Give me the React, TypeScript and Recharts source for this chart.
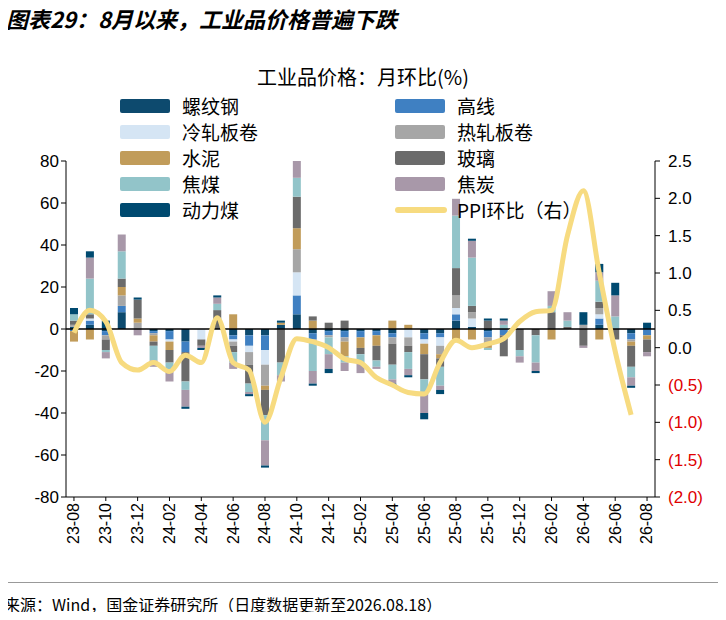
import React from 'react'
import { ComposedChart, Bar, Line, XAxis, YAxis, ReferenceLine } from 'recharts'

const months = [
  '23-08', '23-09', '23-10', '23-11', '23-12', '24-01', '24-02', '24-03', '24-04', '24-05',
  '24-06', '24-07', '24-08', '24-09', '24-10', '24-11', '24-12', '25-01', '25-02', '25-03',
  '25-04', '25-05', '25-06', '25-07', '25-08', '25-09', '25-10', '25-11', '25-12', '26-01',
  '26-02', '26-03', '26-04', '26-05', '26-06', '26-07', '26-08',
]

// 月环比(%)，按图读数估计
const rebar = [1, 2, -1, 8, 0, -1, -1, -6, 0, 0, -3, -3, -3, 2, 7, -2, -1, -1, -1, -1, -2, 0, -2, -2, 4, 1, -1, 0, 0, 0, 0, 0, 0, 2, 0, -2, 0]
const wire = [-1, 2, -2, 3, 0, -1, -4, -5, 0, 0, -2, -5, -7, 0, 9, -3, -2, -3, -3, -2, -2, 0, -3, -2, 3, 0, -3, -3, 0, 0, 0, 0, 0, 3, 0, -3, -3]
const cold = [0, 1, 0, 0, 0, 0, -1, 0, -5, 0, -1, -3, -7, 0, 11, 0, 0, 0, 0, 0, 0, -4, -2, -4, 3, 4, 0, 0, 0, 0, 0, 0, 0, 2, 0, 0, 0]
const hot = [1, 0, -2, 5, 3, -1, 0, 0, 0, 0, -2, -6, -10, 0, 11, -1, -1, -2, 0, 0, -3, -4, 0, -4, 6, 3, -3, 0, 0, 0, 0, 0, 2, 3, 0, -1, 0]
const cement = [-5, -5, 0, 4, 2, -3, -4, 0, 0, 0, 7, 0, -2, 1, 10, 4, 0, -7, -5, -5, 4, 2, -5, -2, -5, -5, -2, 0, 0, 0, -5, 0, 0, -5, 0, -2, -2]
const glass = [2, 2, -5, 4, 9, -2, -6, -14, -3, 9, -3, -9, -12, -16, 15, 2, 3, 4, -3, -7, -10, -3, -12, -4, 13, 3, 4, -10, -10, -3, 8, 1, -8, 3, -5, -10, -6]
const cokingCoal = [3, 17, -1, 13, 0, -7, -4, -4, 0, 3, -5, -4, -12, -6, 9, -14, -8, -3, -4, -3, -7, -8, -6, -9, 25, 23, -1, 2, -3, -13, 3, 3, 0, 10, 6, -5, 0]
const coke = [0, 10, -3, 8, -3, -3, -5, -8, -1, 3, -3, -1, -12, -3, 8, -6, -7, -4, -5, -1, -2, -3, -10, -2, 8, 8, 0, 2, -3, -4, 7, 4, -1, 4, 10, -4, -2]
const thermal = [3, 3, 4, 0, 1, 0, 0, -1, -1, 1, 0, -1, -1, 1, 0, -1, -2, 0, 0, 0, -1, -1, -3, -2, 0, 1, 1, 1, 0, -1, 0, 0, 6, 4, 6, -1, 3]
const ppi = [0.2, 0.5, 0.35, -0.2, -0.3, -0.2, -0.32, -0.1, -0.2, 0.4, -0.2, -0.3, -1.0, -0.4, 0.12, 0.08, 0.0, -0.15, -0.2, -0.4, -0.5, -0.6, -0.62, -0.2, 0.1, 0.0, 0.05, 0.12, 0.35, 0.48, 0.5, 1.5, 2.1, 1.0, -0.05, -0.9, null]

const leftTicks = [-80, -60, -40, -20, 0, 20, 40, 60, 80]
const rightTicks = [-2, -1.5, -1, -0.5, 0, 0.5, 1, 1.5, 2, 2.5]

const series = [
  { key: 'rebar', name: '螺纹钢', color: '#0d4a6e', values: rebar },
  { key: 'wire', name: '高线', color: '#3f80c2', values: wire },
  { key: 'cold', name: '冷轧板卷', color: '#d5e5f4', values: cold },
  { key: 'hot', name: '热轧板卷', color: '#a6a6a6', values: hot },
  { key: 'cement', name: '水泥', color: '#c19c5a', values: cement },
  { key: 'glass', name: '玻璃', color: '#6b6b6b', values: glass },
  { key: 'cokingCoal', name: '焦煤', color: '#92c4c9', values: cokingCoal },
  { key: 'coke', name: '焦炭', color: '#a898a9', values: coke },
  { key: 'thermal', name: '动力煤', color: '#004a70', values: thermal },
]

const data = months.map((m, i) => {
  const row: Record<string, string | number | null> = { month: m, ppi: ppi[i] }
  series.forEach((s) => { row[s.key] = s.values[i] })
  return row
})

const font = '"Liberation Sans", Arial, sans-serif'
const cjk = '"Noto Sans CJK SC", sans-serif'

const RightTick = (props: any) => {
  const { x, y, payload } = props
  const v = payload.value as number
  const label = v < 0 ? `(${Math.abs(v).toFixed(1)})` : v.toFixed(1)
  return (
    <text x={x + 6} y={y + 6} fill={v < 0 ? '#e00000' : '#000'} fontSize={17} fontFamily={font}>
      {label}
    </text>
  )
}

const legendRows = [
  [series[0], series[1]],
  [series[2], series[3]],
  [series[4], series[5]],
  [series[6], series[7]],
  [series[8], null],
]

export default function App() {
  return (
    <div style={{ position: 'relative', width: 726, height: 620, margin: -8, background: '#fff', fontFamily: cjk }}>
      <div style={{ position: 'absolute', left: 6, top: 2, fontSize: 22, fontWeight: 'bold', fontStyle: 'italic' }}>
        图表29：8月以来，工业品价格普遍下跌
      </div>
      <div style={{ position: 'absolute', left: 0, width: 726, top: 62, textAlign: 'center', fontSize: 20 }}>
        工业品价格：月环比(%)
      </div>
      <div style={{ position: 'absolute', left: 0, top: 0 }}>
        <ComposedChart width={726} height={620} data={data} stackOffset="sign"
          margin={{ top: 161, bottom: 63, left: 26, right: 21 }} barCategoryGap="25%">
          <XAxis dataKey="month" interval={1} angle={-90} textAnchor="end" height={60}
            tick={{ fontSize: 16, fill: '#000', fontFamily: font, dx: -6 }} tickSize={4}
            axisLine={{ stroke: '#000' }} tickLine={{ stroke: '#000' }} />
          <YAxis yAxisId="l" domain={[-80, 80]} ticks={leftTicks} width={40}
            tick={{ fontSize: 17, fill: '#000', fontFamily: font }} tickSize={5}
            axisLine={{ stroke: '#000' }} tickLine={{ stroke: '#000' }} />
          <YAxis yAxisId="r" orientation="right" domain={[-2, 2.5]} ticks={rightTicks} width={50}
            tick={<RightTick />} tickSize={5} axisLine={{ stroke: '#000' }} tickLine={{ stroke: '#000' }} />
          {series.map((s) => (
            <Bar key={s.key} yAxisId="l" dataKey={s.key} stackId="a" fill={s.color} isAnimationActive={false} />
          ))}
          <ReferenceLine yAxisId="l" y={0} stroke="#000" strokeWidth={1.5} />
          <Line yAxisId="r" dataKey="ppi" type="monotone" stroke="#f7db80" strokeWidth={5} dot={false}
            connectNulls={false} isAnimationActive={false} />
        </ComposedChart>
      </div>
      {legendRows.map((row, r) => (
        <React.Fragment key={r}>
          {row.map((s, c) => s && (
            <div key={s.key} style={{ position: 'absolute', left: c === 0 ? 120 : 395, top: 92 + r * 26, display: 'flex', alignItems: 'center' }}>
              <div style={{ width: 50, height: 14, background: s.color, borderRadius: 2, marginRight: 12 }} />
              <span style={{ fontSize: 19 }}>{s.name}</span>
            </div>
          ))}
        </React.Fragment>
      ))}
      <div style={{ position: 'absolute', left: 395, top: 196, display: 'flex', alignItems: 'center' }}>
        <div style={{ width: 52, height: 6, background: '#f7db80', borderRadius: 3, marginRight: 10 }} />
        <span style={{ fontSize: 19 }}>PPI环比（右）</span>
      </div>
      <div style={{ position: 'absolute', left: 0, width: 726, top: 582, borderTop: '1px solid #999' }} />
      <div style={{ position: 'absolute', left: 4, top: 592, fontSize: 16 }}>
        来源：Wind，国金证券研究所（日度数据更新至2026.08.18）
      </div>
    </div>
  )
}
